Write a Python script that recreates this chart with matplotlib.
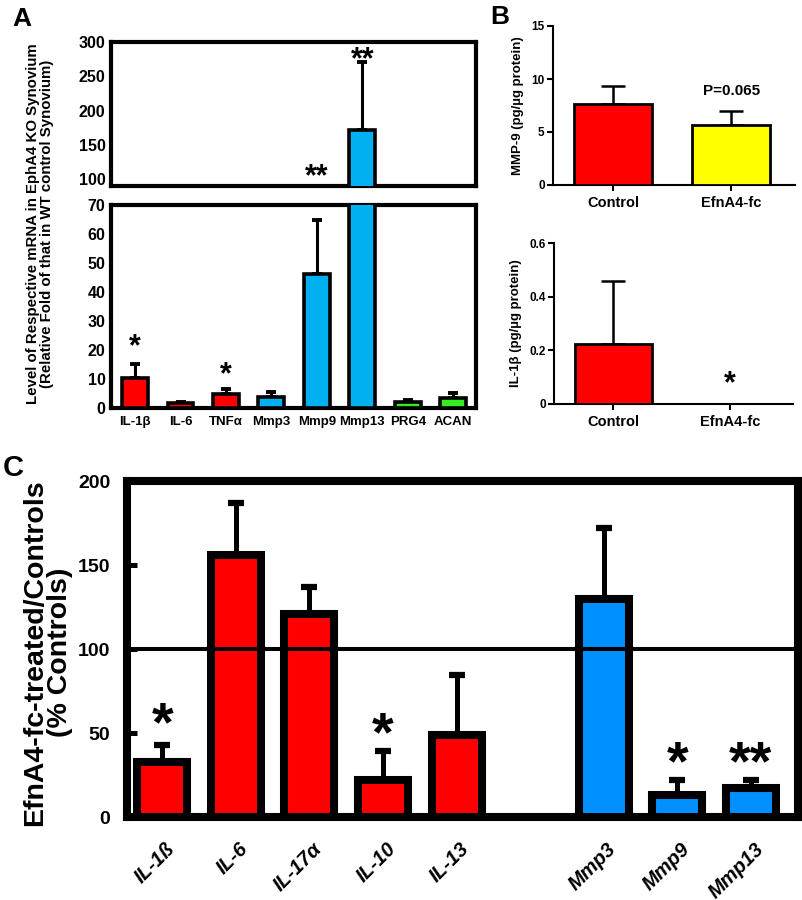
import matplotlib.pyplot as plt
from matplotlib.transforms import ScaledTranslation

plt.rcParams['font.family'] = ['Liberation Sans', 'DejaVu Sans']
plt.rcParams['font.weight'] = 'bold'
plt.rcParams['axes.labelweight'] = 'bold'

# ---- panel A: mRNA fold change, EphA4 KO vs WT
a_genes = ['IL-1β', 'IL-6', 'TNFα', 'Mmp3', 'Mmp9', 'Mmp13', 'PRG4', 'ACAN']
a_fold = [10.5, 1.6, 5.0, 3.8, 46.3, 171, 2.0, 3.5]
a_err = [4.8, 0.6, 1.5, 1.7, 18.7, 100, 0.8, 1.8]
a_colors = ['#ff0000'] * 3 + ['#00b0f0'] * 3 + ['#33ee22'] * 2
a_star_low = [(0, '*', 21), (2, '*', 11.3)]
a_star_high = [(4, '**', 103), (5, '**', 273)]

# ---- panel B: protein levels
b_groups = ['Control', 'EfnA4-fc']
b_mmp9 = [7.6, 5.65]
b_mmp9_err = [1.7, 1.35]
b_il1b = [0.223, 0.0]
b_il1b_err = [0.235, 0.0]
b_colors = ['#ff0000', '#ffff00']

# ---- panel C: EfnA4-fc treated / controls
c_genes = ['IL-1ß', 'IL-6', 'IL-17α', 'IL-10', 'IL-13', 'Mmp3', 'Mmp9', 'Mmp13']
c_pos = [0, 1, 2, 3, 4, 6, 7, 8]
c_vals = [33, 156, 121, 22, 49, 130, 13, 17]
c_err = [10, 31, 16, 17, 35.5, 42, 9, 5]
c_colors = ['#ff0000'] * 5 + ['#0090ff'] * 3
c_stars = [(0, '*', 54), (3, '*', 48), (7, '*', 31), (8, '**', 31)]

W, H = 803, 900
fig = plt.figure(figsize=(W / 100, H / 100), dpi=100)


def rect(l, t, r, b):
    return [l / W, 1 - b / H, (r - l) / W, (b - t) / H]


# A, broken axis: top part and bottom part
axA1 = fig.add_axes(rect(111, 42, 476, 186))
axA2 = fig.add_axes(rect(111, 205, 476, 408))
ax_x = list(range(len(a_genes)))
for ax in (axA1, axA2):
    ax.bar(ax_x, a_fold, width=0.57, color=a_colors, edgecolor='black',
           linewidth=2.6, zorder=3)
    ax.errorbar(ax_x, a_fold, yerr=[[0] * len(a_err), a_err], fmt='none',
                ecolor='black', elinewidth=2.2, capsize=3.6, capthick=2.8,
                zorder=2)
    ax.set_xlim(-0.53, 7.5)
    for s in ax.spines.values():
        s.set_linewidth(3)
    ax.tick_params(length=0, labelsize=11.5, pad=4)
axA1.set_ylim(90, 300)
axA1.set_yticks([100, 150, 200, 250, 300])
axA1.set_xticks([])
axA2.set_ylim(0, 70)
axA2.set_yticks(range(0, 71, 10))
axA2.set_xticks(ax_x)
axA2.set_xticklabels(a_genes, fontsize=9.5)
axA2.tick_params(axis='x', pad=6)
for i, s, y in a_star_low:
    axA2.text(i, y, s, ha='center', va='center', fontsize=22)
for i, s, y in a_star_high:
    axA1.text(i, y, s, ha='center', va='center', fontsize=22)
fig.text(40 / W, 1 - 224 / H,
         'Level of Respective mRNA in EphA4 KO Synovium\n'
         '(Relative Fold of that in WT control Synovium)',
         rotation=90, ha='center', va='center', fontsize=10.8,
         multialignment='center', linespacing=1.0)
fig.text(12 / W, 1 - 19 / H, 'A', fontsize=19, ha='left', va='center')


# B, two small GraphPad-style plots
def b_panel(ax, vals, errs, ylim, yticks, ylabel):
    ax.bar([0, 1], vals, width=0.66, color=b_colors, edgecolor='black',
           linewidth=2, zorder=3)
    ax.errorbar([0, 1], vals, yerr=[[0, 0], errs], fmt='none', ecolor='black',
                elinewidth=1.8, capsize=8.3, capthick=1.8, zorder=2)
    ax.set_xlim(-0.51, 1.54)
    ax.set_ylim(*ylim)
    ax.set_yticks(yticks)
    ax.set_xticks([0, 1])
    ax.set_xticklabels(b_groups, fontsize=10.5)
    ax.spines['top'].set_visible(False)
    ax.spines['right'].set_visible(False)
    ax.spines['left'].set_linewidth(1.5)
    ax.spines['bottom'].set_linewidth(1.5)
    ax.tick_params(axis='y', length=4, width=1.5, labelsize=8.5, pad=2)
    ax.tick_params(axis='x', length=4, width=1.5, pad=4)
    ax.set_ylabel(ylabel, fontsize=9.5, labelpad=5)


axB1 = fig.add_axes(rect(553, 26, 795, 185))
b_panel(axB1, b_mmp9, b_mmp9_err, (0, 15), [0, 5, 10, 15],
        'MMP-9 (pg/µg protein)')
axB1.text(1, 8.9, 'P=0.065', ha='center', va='center', fontsize=11)

axB2 = fig.add_axes(rect(554, 243, 793, 404))
b_panel(axB2, b_il1b, b_il1b_err, (0, 0.6), [0, 0.2, 0.4, 0.6],
        'IL-1β (pg/µg protein)')
axB2.set_yticklabels(['0', '0.2', '0.4', '0.6'])
axB2.text(1, 0.075, '*', ha='center', va='center', fontsize=22)
fig.text(490 / W, 1 - 17 / H, 'B', fontsize=19, ha='left', va='center')

# C
axC = fig.add_axes(rect(127, 481, 798, 817))
axC.bar(c_pos, c_vals, width=0.68, color=c_colors, edgecolor='black',
        linewidth=5.8, zorder=3)
axC.errorbar(c_pos, c_vals, yerr=[[0] * len(c_err), c_err], fmt='none',
             ecolor='black', elinewidth=3.6, capsize=5.8, capthick=4.5,
             zorder=2)
axC.axhline(100, color='black', linewidth=2.9, zorder=4)
axC.set_xlim(-0.48, 8.64)
axC.set_ylim(0, 200)
axC.set_yticks([0, 50, 100, 150, 200])
for s in axC.spines.values():
    s.set_linewidth(5.8)
axC.tick_params(axis='y', direction='in', length=7, width=3.6,
                labelsize=14, pad=12)
axC.tick_params(axis='x', length=0, pad=16)
axC.set_xticks(c_pos)
axC.set_xticklabels(c_genes, fontsize=14.5, style='italic', rotation=45,
                    ha='right', va='top', rotation_mode='anchor')
off = ScaledTranslation(3 / 100, 0, fig.dpi_scale_trans)
for lab in axC.get_xticklabels():
    lab.set_transform(lab.get_transform() + off)
for i, s, y in c_stars:
    axC.text(i, y, s, ha='center', va='center', fontsize=40)
axC.set_ylabel('EfnA4-fc-treated/Controls\n(% Controls)', fontsize=20.5,
               linespacing=0.95)
axC.yaxis.set_label_coords(-0.08, 0.49)
fig.text(3 / W, 1 - 468 / H, 'C', fontsize=21, ha='left', va='center')

fig.savefig('out.png', dpi=100)
